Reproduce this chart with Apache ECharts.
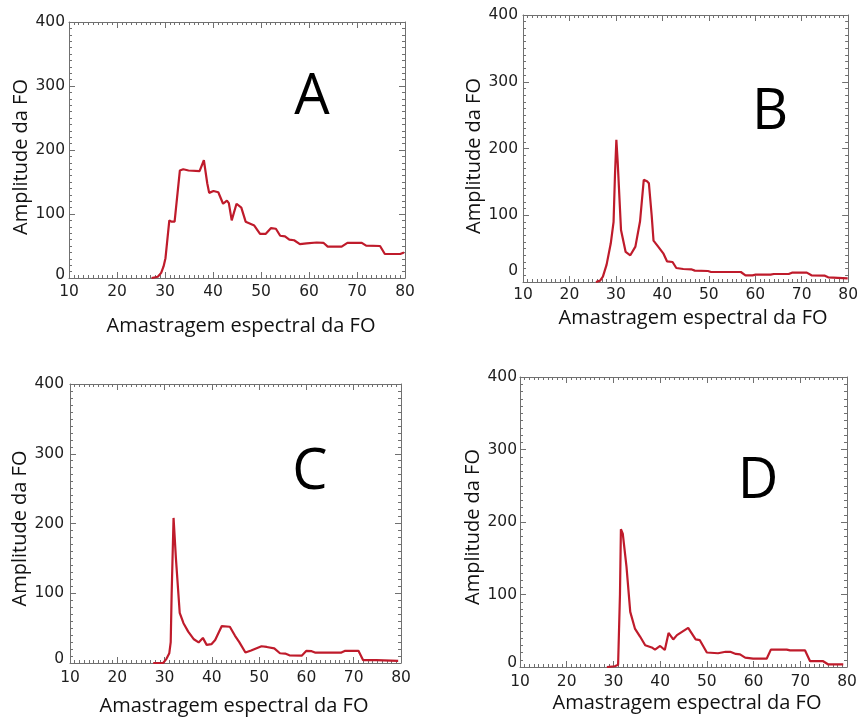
<!DOCTYPE html>
<html>
<head>
<meta charset="utf-8">
<title>Amplitude da FO</title>
<script src="https://cdn.jsdelivr.net/npm/echarts@6/dist/echarts.min.js"></script>
<style>
  html, body { margin: 0; padding: 0; background: #ffffff; }
  #chart { width: 861px; height: 717px; }
</style>
</head>
<body>
<div id="chart"></div>
<script>
// Spectra of the four samples: [spectral sample, amplitude]
const seriesA = [
  [27.2, 0], [28.5, 2], [29.2, 8], [29.7, 18], [30.1, 31], [30.9, 90], [31.4, 88], [32.0, 88],
  [33.1, 168], [33.8, 170], [34.9, 168], [37.2, 167], [38.1, 184], [38.8, 148], [39.2, 133],
  [40.1, 136], [41.1, 134], [42.1, 116], [42.9, 121], [43.3, 117], [43.9, 90], [44.9, 116],
  [45.9, 110], [46.8, 88], [48.6, 82], [49.8, 69], [51.0, 69], [52.1, 78], [53.1, 77],
  [54.0, 66], [55.0, 65], [55.9, 60], [56.9, 59], [58.1, 53], [59.5, 54], [61.6, 55.5],
  [63.0, 55], [63.9, 49], [66.8, 49], [68.0, 55], [71.0, 55], [71.9, 50.5], [74.8, 50],
  [75.8, 37.5], [79.0, 37.5], [79.8, 40]
];
const seriesB = [
  [25.7, 0], [26.6, 2], [27.2, 8], [28.0, 26], [28.9, 58], [29.5, 90], [29.8, 160], [30.1, 213],
  [30.4, 178], [31.1, 78], [32.1, 45], [33.1, 40], [34.2, 53], [35.2, 91], [36.0, 153],
  [36.7, 151], [37.1, 148], [37.7, 100], [38.1, 62], [39.1, 53], [40.2, 43], [41.0, 31],
  [42.2, 30], [43.0, 21], [44.5, 19.5], [46.2, 19], [47.0, 17], [49.8, 16.5], [50.5, 15],
  [56.9, 15], [57.9, 10], [59.4, 10], [60.1, 11], [63.3, 11], [64.0, 12], [67.2, 12],
  [67.9, 14], [71.1, 14], [72.1, 10], [75.0, 9.5], [75.7, 7], [79.9, 5.5]
];
const seriesC = [
  [27.6, 0], [29.7, 0], [30.4, 6], [31.0, 14], [31.3, 30], [31.5, 100], [31.9, 208], [32.4, 150],
  [33.2, 72], [34.0, 57], [35.0, 45], [36.2, 34], [37.2, 29.5], [38.1, 36], [38.9, 26],
  [39.9, 27], [40.7, 33], [42.1, 53], [43.8, 52], [44.9, 39], [45.8, 30], [47.1, 15],
  [48.3, 18], [50.5, 24], [51.6, 23], [53.2, 21], [54.4, 14], [55.5, 13.5], [56.4, 11],
  [59.0, 10.5], [60.0, 17.5], [61.1, 17], [61.8, 15], [67.4, 15], [68.2, 17.5], [71.0, 17.5],
  [72.0, 4], [74.8, 4], [79.4, 3]
];
const seriesD = [
  [28.6, 0], [30.3, 1], [31.0, 3], [31.4, 100], [31.6, 190], [32.0, 184], [32.8, 138],
  [33.6, 76], [34.6, 53], [35.7, 42], [36.8, 30], [38.2, 27], [38.9, 24], [40.0, 29],
  [41.0, 23.5], [41.8, 47], [42.8, 38], [43.6, 44], [46.0, 54], [47.6, 38], [48.5, 37],
  [50.0, 20], [52.4, 19], [54.0, 21], [55.0, 21], [56.2, 18], [57.1, 17.5], [58.2, 13],
  [59.9, 11.5], [62.8, 11.5], [63.7, 24], [67.1, 24], [67.8, 23], [71.0, 23], [72.1, 8],
  [74.9, 8], [76.0, 3.5], [79.2, 3.5]
];

const panelLetters = ['A', 'B', 'C', 'D'];
const xTitle = 'Amastragem espectral da FO';
const yTitle = 'Amplitude da FO';
const xRange = [10, 80];
const xStep = 10;
const yRange = [0, 400];
const yStep = 100;

// Layout of each panel (pixels)
const panels = [
  { data: seriesA, grid: { left: 69, top: 22, width: 336, height: 256 }, letter: [312, 98],
    xMargin: 6, xGap: 38, xShift: 8, yMargin: 4, yGap: 34, yShift: 14, zeroLift: 6 },
  { data: seriesB, grid: { left: 523, top: 15, width: 329, height: 267 }, letter: [770, 113],
    xMargin: 5, xGap: 26, xShift: 15, yMargin: 5, yGap: 36, yShift: 15, zeroLift: 22 },
  { data: seriesC, grid: { left: 70, top: 384, width: 331, height: 280 }, letter: [310, 473],
    xMargin: 7, xGap: 33, xShift: -3, yMargin: 6, yGap: 35, yShift: 10, zeroLift: 8 },
  { data: seriesD, grid: { left: 520, top: 377, width: 327, height: 290 }, letter: [758, 482],
    xMargin: 7, xGap: 26, xShift: 7, yMargin: 3, yGap: 33, yShift: 10, zeroLift: 8 }
];

const frameColor = '#707070';
const lineColor = '#bf1b2b';
const tickFont = 'DejaVu Sans';
const titleFont = 'Open Sans';
const tickSize = 15.5;

function frameParts(majorLen, minorLen) {
  return {
    axisLine: { show: true, onZero: false, lineStyle: { color: frameColor, width: 1 } },
    axisTick: { show: true, inside: true, length: majorLen, lineStyle: { color: frameColor, width: 1 } },
    minorTick: { show: true, splitNumber: 10, length: minorLen, lineStyle: { color: frameColor, width: 1 } },
    splitLine: { show: false },
    minorSplitLine: { show: false }
  };
}

const grids = [], xAxes = [], yAxes = [], series = [], letters = [];

panels.forEach((p, i) => {
  grids.push(Object.assign({ containLabel: false }, p.grid));

  const shiftPad = p.xShift >= 0 ? [0, 0, 0, p.xShift] : [0, -p.xShift, 0, 0];
  xAxes.push(Object.assign({
    type: 'value', gridIndex: i, position: 'bottom',
    min: xRange[0], max: xRange[1], interval: xStep,
    axisLabel: { show: true, color: '#1e1e1e', fontFamily: tickFont, fontSize: tickSize, margin: p.xMargin,
                 showMinLabel: true, showMaxLabel: true, hideOverlap: false },
    name: xTitle, nameLocation: 'middle', nameGap: p.xGap,
    nameTextStyle: { fontFamily: titleFont, fontSize: 20, color: '#111', padding: shiftPad }
  }, frameParts(6, 3)));
  xAxes.push(Object.assign({
    type: 'value', gridIndex: i, position: 'top',
    min: xRange[0], max: xRange[1], interval: xStep,
    axisLabel: { show: false }
  }, frameParts(6, 3)));

  const lift = p.zeroLift;
  yAxes.push(Object.assign({
    type: 'value', gridIndex: i, position: 'left',
    min: yRange[0], max: yRange[1], interval: yStep,
    axisLabel: {
      show: true, color: '#1e1e1e', fontFamily: tickFont, fontSize: tickSize, margin: p.yMargin,
      showMinLabel: true, showMaxLabel: true, hideOverlap: false,
      formatter: v => (v === 0 ? '{z|0}' : String(v)),
      rich: { z: { fontFamily: tickFont, fontSize: tickSize, color: '#1e1e1e', padding: [0, 0, lift, 0] } }
    },
    name: yTitle, nameLocation: 'middle', nameGap: p.yGap, nameRotate: 90,
    nameTextStyle: { fontFamily: titleFont, fontSize: 20, color: '#111', padding: [0, p.yShift, 0, 0] }
  }, frameParts(6, 3)));
  yAxes.push(Object.assign({
    type: 'value', gridIndex: i, position: 'right',
    min: yRange[0], max: yRange[1], interval: yStep,
    axisLabel: { show: false }
  }, frameParts(6, 3)));

  series.push({
    type: 'line', xAxisIndex: 2 * i, yAxisIndex: 2 * i,
    data: p.data, showSymbol: false, symbol: 'none', smooth: false,
    lineStyle: { color: lineColor, width: 2.2 },
    emphasis: { disabled: true }
  });

  letters.push({
    type: 'text', x: p.letter[0], y: p.letter[1], z: 10,
    style: { text: panelLetters[i], font: '56px "Open Sans"', fill: '#000',
             align: 'center', verticalAlign: 'middle' }
  });
});

const chart = echarts.init(document.getElementById('chart'), null, { renderer: 'canvas' });
chart.setOption({
  animation: false,
  backgroundColor: '#ffffff',
  grid: grids,
  xAxis: xAxes,
  yAxis: yAxes,
  series: series,
  graphic: letters
});
</script>
</body>
</html>
